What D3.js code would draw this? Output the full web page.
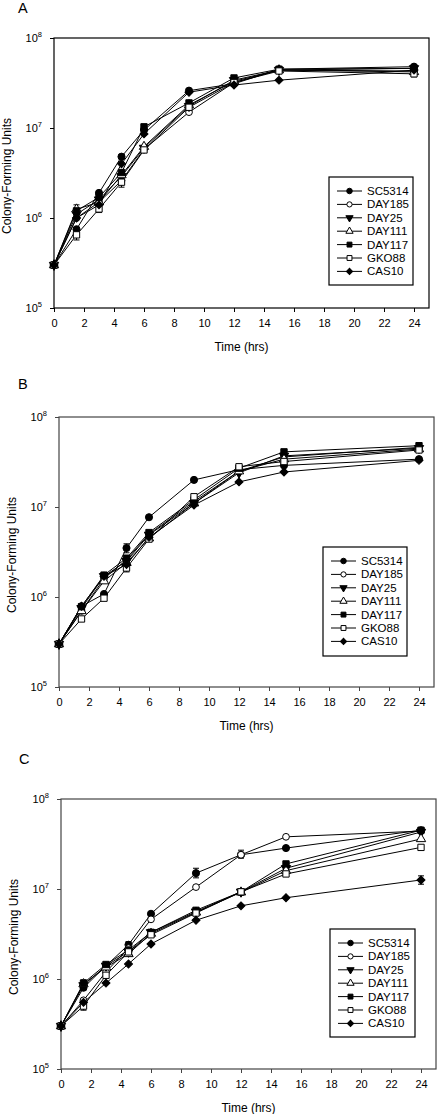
<!DOCTYPE html>
<html><head><meta charset="utf-8">
<script src="https://cdn.jsdelivr.net/npm/d3@7"></script>
<style>body{margin:0;background:#fff}svg{display:block}text{font-family:"Liberation Sans",Arial,sans-serif;fill:#000}</style>
</head><body><svg id="c" width="437" height="1114"></svg>
<script>
const times = [0, 1.5, 3, 4.5, 6, 9, 12, 15, 24];
const strains = ["SC5314", "DAY185", "DAY25", "DAY111", "DAY117", "GKO88", "CAS10"];
const xTicks = [0, 2, 4, 6, 8, 10, 12, 14, 16, 18, 20, 22, 24];
const yTicks = [1e5, 1e6, 1e7, 1e8];
const yTickExp = ["5", "6", "7", "8"];
const panelLabels = ["A", "B", "C"];

// Panel A
const a_SC5314 = [3e5, 7.5e5, 1.9e6, 4.8e6, 9.5e6, 2.6e7, 3.1e7, 4.5e7, 4.8e7];
const a_DAY185 = [3e5, 1.0e6, 1.5e6, 2.6e6, 5.8e6, 1.5e7, 3.2e7, 4.4e7, 4.3e7];
const a_DAY25  = [3e5, 1.1e6, 1.6e6, 2.9e6, 6.0e6, 1.75e7, 3.4e7, 4.4e7, 4.6e7];
const a_DAY111 = [3e5, 1.25e6, 1.5e6, 3.0e6, 6.2e6, 1.8e7, 3.3e7, 4.4e7, 4.2e7];
const a_DAY117 = [3e5, 1.2e6, 1.7e6, 3.2e6, 1.03e7, 1.9e7, 3.6e7, 4.5e7, 4.6e7];
const a_GKO88  = [3e5, 6.5e5, 1.26e6, 2.5e6, 5.7e6, 1.7e7, 3.2e7, 4.3e7, 4.0e7];
const a_CAS10  = [3e5, 1.0e6, 1.4e6, 4.0e6, 8.6e6, 2.5e7, 3.0e7, 3.4e7, 4.4e7];
// Panel B
const b_SC5314 = [3e5, 7.9e5, 1.08e6, 3.5e6, 7.7e6, 2.0e7, 2.6e7, 2.9e7, 3.4e7];
const b_DAY185 = [3e5, 7.0e5, 1.6e6, 2.6e6, 5.0e6, 1.15e7, 2.5e7, 3.6e7, 4.6e7];
const b_DAY25  = [3e5, 7.5e5, 1.7e6, 2.5e6, 4.9e6, 1.1e7, 2.4e7, 3.7e7, 4.5e7];
const b_DAY111 = [3e5, 7.0e5, 1.5e6, 2.4e6, 4.5e6, 1.1e7, 2.5e7, 3.4e7, 4.4e7];
const b_DAY117 = [3e5, 7.8e5, 1.75e6, 2.7e6, 5.2e6, 1.2e7, 2.7e7, 4.1e7, 4.8e7];
const b_GKO88  = [3e5, 5.7e5, 9.7e5, 2.1e6, 4.4e6, 1.3e7, 2.8e7, 3.2e7, 4.3e7];
const b_CAS10  = [3e5, 7.9e5, 1.7e6, 2.3e6, 4.6e6, 1.05e7, 1.9e7, 2.45e7, 3.3e7];
// Panel C
const c_SC5314 = [3e5, 8.0e5, 1.4e6, 2.4e6, 5.3e6, 1.5e7, 2.4e7, 2.85e7, 4.5e7];
const c_DAY185 = [3e5, 5.8e5, 1.2e6, 2.2e6, 4.6e6, 1.05e7, 2.4e7, 3.8e7, 4.4e7];
const c_DAY25  = [3e5, 8.5e5, 1.4e6, 2.0e6, 3.3e6, 5.6e6, 9.3e6, 1.7e7, 4.3e7];
const c_DAY111 = [3e5, 8.8e5, 1.35e6, 1.9e6, 3.2e6, 5.5e6, 9.2e6, 1.6e7, 3.6e7];
const c_DAY117 = [3e5, 9.0e5, 1.45e6, 2.1e6, 3.3e6, 5.8e6, 9.3e6, 1.9e7, 4.5e7];
const c_GKO88  = [3e5, 5.0e5, 1.1e6, 2.0e6, 3.1e6, 5.4e6, 9.3e6, 1.47e7, 2.9e7];
const c_CAS10  = [3e5, 5.5e5, 9.0e5, 1.47e6, 2.45e6, 4.5e6, 6.5e6, 8.0e6, 1.26e7];

// error bars: [strain index, time index, upper value, lower value]
const a_err = [[3,1,1.4e6,1.1e6],[5,1,7.5e5,5.7e5],[5,2,1.4e6,1.15e6],[5,3,2.9e6,2.2e6],[5,8,4.3e7,3.7e7],[0,4,1.1e7,8.9e6]];
const b_err = [[0,3,3.9e6,3.1e6],[5,3,2.3e6,1.9e6],[5,7,3.4e7,3.0e7]];
const c_err = [[4,1,9.8e5,8.2e5],[5,1,5.5e5,4.5e5],[0,5,1.7e7,1.33e7],[0,6,2.7e7,2.2e7],[6,8,1.4e7,1.13e7],[4,3,2.6e6,2.2e6]];

const panels = [
  {series: [a_SC5314,a_DAY185,a_DAY25,a_DAY111,a_DAY117,a_GKO88,a_CAS10], err: a_err,
   l:54, r:429, t:38, b:308, axis:"#000", lx:18, ly:13, leg:{x:329,y:177,w:84,h:108}},
  {series: [b_SC5314,b_DAY185,b_DAY25,b_DAY111,b_DAY117,b_GKO88,b_CAS10], err: b_err,
   l:59, r:434, t:417, b:687, axis:"#444", lx:18, ly:389, leg:{x:323,y:547,w:84,h:109}},
  {series: [c_SC5314,c_DAY185,c_DAY25,c_DAY111,c_DAY117,c_GKO88,c_CAS10], err: c_err,
   l:61, r:436, t:799, b:1069, axis:"#444", lx:19, ly:764, leg:{x:330,y:929,w:85,h:108}}
];

const markers = [
  {sym:d3.symbolCircle, size:40, fill:true, rot:0},
  {sym:d3.symbolCircle, size:36, fill:false, rot:0},
  {sym:d3.symbolTriangle, size:38, fill:true, rot:180},
  {sym:d3.symbolTriangle, size:38, fill:false, rot:0},
  {sym:d3.symbolSquare, size:40, fill:true, rot:0},
  {sym:d3.symbolSquare, size:40, fill:false, rot:0},
  {sym:d3.symbolSquare, size:32, fill:true, rot:45}
];

const svg = d3.select("#c");

function drawMarker(g, i, x, y, scale) {
  const m = markers[i];
  g.append("path").attr("d", d3.symbol().type(m.sym).size(m.size * scale)())
    .attr("transform", `translate(${x},${y}) rotate(${m.rot})`)
    .attr("fill", m.fill ? "#000" : "#fff").attr("stroke", "#000").attr("stroke-width", 1);
}

panels.forEach((p, pi) => {
  const g = svg.append("g");
  const x = d3.scaleLinear().domain([0, 25]).range([p.l, p.r]);
  const y = d3.scaleLog().domain([1e5, 1e8]).range([p.b, p.t]);

  g.append("text").attr("x", p.lx).attr("y", p.ly).attr("font-size", 14.5).text(panelLabels[pi]);

  g.append("rect").attr("x", p.l).attr("y", p.t).attr("width", p.r - p.l).attr("height", p.b - p.t)
    .attr("fill", "none").attr("stroke", p.axis).attr("stroke-width", 1.2);

  const xa = g.append("g").attr("transform", `translate(0,${p.b})`)
    .call(d3.axisBottom(x).tickValues(xTicks).tickSize(4).tickPadding(7).tickFormat(d3.format("d")));
  xa.select(".domain").remove();
  xa.selectAll("line").attr("stroke", p.axis);
  xa.selectAll("text").attr("font-size", 11).attr("font-family", "Liberation Sans, Arial, sans-serif").attr("fill", "#000");

  const ya = g.append("g").attr("transform", `translate(${p.l},0)`)
    .call(d3.axisLeft(y).tickValues(yTicks).tickSize(4).tickFormat(""));
  ya.select(".domain").remove();
  ya.selectAll("line").attr("stroke", p.axis);
  yTicks.forEach((v, k) => {
    const t = g.append("text").attr("x", p.l - 12).attr("y", y(v) + 4).attr("text-anchor", "end").attr("font-size", 11);
    t.append("tspan").text("10");
    t.append("tspan").attr("dy", -5).attr("font-size", 7.5).text(yTickExp[k]);
  });

  g.append("text").attr("x", (p.l + p.r) / 2).attr("y", p.b + 43).attr("text-anchor", "middle")
    .attr("font-size", 12).text("Time (hrs)");
  const cy = (p.t + p.b) / 2 + 3;
  g.append("text").attr("transform", `translate(${p.l - 43.5},${cy}) rotate(-90)`).attr("text-anchor", "middle")
    .attr("font-size", 12).text("Colony-Forming Units");

  const line = d3.line().x((d, i) => x(times[i])).y(d => y(d));
  p.series.forEach(s => {
    g.append("path").attr("d", line(s)).attr("fill", "none").attr("stroke", "#000").attr("stroke-width", 1);
  });
  p.err.forEach(e => {
    const xx = x(times[e[1]]);
    g.append("line").attr("x1", xx).attr("x2", xx).attr("y1", y(e[2])).attr("y2", y(e[3])).attr("stroke", "#000");
    [e[2], e[3]].forEach(v => g.append("line").attr("x1", xx - 3).attr("x2", xx + 3).attr("y1", y(v)).attr("y2", y(v)).attr("stroke", "#000"));
  });
  p.series.forEach((s, si) => {
    s.forEach((v, i) => drawMarker(g, si, x(times[i]), y(v), 1));
  });

  const L = p.leg;
  g.append("rect").attr("x", L.x).attr("y", L.y).attr("width", L.w).attr("height", L.h)
    .attr("fill", "#fff").attr("stroke", "#000").attr("stroke-width", 1.2);
  strains.forEach((name, si) => {
    const ry = L.y + 14 + si * 13.4;
    g.append("line").attr("x1", L.x + 8).attr("x2", L.x + 33).attr("y1", ry).attr("y2", ry).attr("stroke", "#000");
    drawMarker(g, si, L.x + 20.5, ry, 0.6);
    g.append("text").attr("x", L.x + 38).attr("y", ry + 4).attr("font-size", 11.5).text(name);
  });
});
</script></body></html>
